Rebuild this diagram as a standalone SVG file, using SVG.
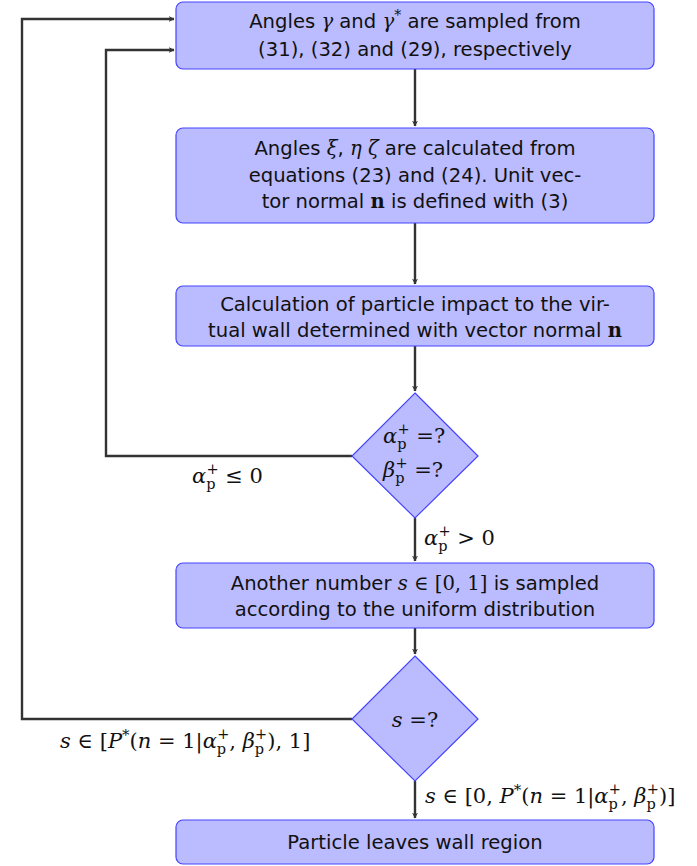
<svg xmlns="http://www.w3.org/2000/svg" width="697" height="866" viewBox="0 0 697 866">
<defs>
<marker id="arr" viewBox="0 0 10 10" refX="9" refY="5" markerWidth="6" markerHeight="6" orient="auto" markerUnits="userSpaceOnUse">
<path d="M0,0 L10,5 L0,10 L3,5 Z" fill="#333"/>
</marker>
<style>
.box{fill:#bbbbff;stroke:#4444ff;stroke-width:1.2}
.t{font-family:"DejaVu Sans","Liberation Sans",sans-serif;font-size:19.6px;fill:#111;text-anchor:middle}
.m{font-family:"DejaVu Serif","Liberation Serif",serif;font-style:italic}
.r{font-family:"DejaVu Serif","Liberation Serif",serif;font-style:normal}
.b{font-family:"DejaVu Serif","Liberation Serif",serif;font-weight:bold}
.mt{font-family:"DejaVu Serif","Liberation Serif",serif;font-size:21px;fill:#111}
.sub{font-size:14.5px;font-style:normal}
.c{fill:none;stroke:#333;stroke-width:2.4}
</style>
</defs>
<g id="connectors">
<path class="c" d="M415,69 V126" marker-end="url(#arr)"/>
<path class="c" d="M415,223 V284" marker-end="url(#arr)"/>
<path class="c" d="M415,346 V391" marker-end="url(#arr)"/>
<path class="c" d="M415,518 V561" marker-end="url(#arr)"/>
<path class="c" d="M415,628 V654" marker-end="url(#arr)"/>
<path class="c" d="M415,781 V818" marker-end="url(#arr)"/>
<path class="c" d="M352,456 H106 V50 H174" marker-end="url(#arr)"/>
<path class="c" d="M352,719 H22 V19 H174" marker-end="url(#arr)"/>
</g>
<g id="n1">
<rect class="box" x="176" y="2" width="478" height="67" rx="7"/>
<text class="t" x="415" y="28">Angles <tspan class="m">γ</tspan> and <tspan class="m">γ</tspan><tspan class="r" font-size="14" dy="-8">*</tspan><tspan dy="8"> are sampled from</tspan></text>
<text class="t" x="415" y="56">(31), (32) and (29), respectively</text>
</g>
<g id="n2">
<rect class="box" x="176" y="128" width="478" height="95" rx="7"/>
<text class="t" x="415" y="155">Angles <tspan class="m">ξ</tspan>, <tspan class="m">η</tspan>  <tspan class="m">ζ</tspan> are calculated from</text>
<text class="t" x="415" y="182">equations (23) and (24).  Unit vec-</text>
<text class="t" x="415" y="208">tor normal <tspan class="b">n</tspan> is defined with (3)</text>
</g>
<g id="n3">
<rect class="box" x="176" y="286" width="478" height="60" rx="7"/>
<text class="t" x="415" y="311">Calculation of particle impact to the vir-</text>
<text class="t" x="415" y="337">tual wall determined with vector normal <tspan class="b">n</tspan></text>
</g>
<g id="d1">
<polygon class="box" points="415,393 478,456 415,518 352,456"/>
<text class="mt" x="383" y="443"><tspan class="m">α</tspan><tspan class="sub" dy="6">p</tspan><tspan class="sub" dx="-9" dy="-15">+</tspan><tspan dy="9"> =?</tspan></text>
<text class="mt" x="383" y="477"><tspan class="m">β</tspan><tspan class="sub" dy="6">p</tspan><tspan class="sub" dx="-9" dy="-15">+</tspan><tspan dy="9"> =?</tspan></text>
</g>
<g id="n4">
<rect class="box" x="176" y="563" width="478" height="65" rx="7"/>
<text class="t" x="415" y="590">Another number <tspan class="m">s</tspan>  <tspan class="r">∈</tspan>  <tspan class="r">[0, 1]</tspan> is sampled</text>
<text class="t" x="415" y="616">according to the uniform distribution</text>
</g>
<g id="d2">
<polygon class="box" points="415,656 478,719 415,781 352,719"/>
<text class="mt" x="415" y="727" text-anchor="middle"><tspan class="m">s</tspan> =?</text>
</g>
<g id="n5">
<rect class="box" x="176" y="820" width="478" height="44" rx="7"/>
<text class="t" x="415" y="849">Particle leaves wall region</text>
</g>
<g id="labels">
<text class="mt" x="192" y="483"><tspan class="m">α</tspan><tspan class="sub" dy="6">p</tspan><tspan class="sub" dx="-9" dy="-15">+</tspan><tspan dy="9"> ≤ 0</tspan></text>
<text class="mt" x="424" y="545"><tspan class="m">α</tspan><tspan class="sub" dy="6">p</tspan><tspan class="sub" dx="-9" dy="-15">+</tspan><tspan dy="9"> &gt; 0</tspan></text>
<text class="mt" x="60" y="748"><tspan class="m">s</tspan> ∈ [<tspan class="m">P</tspan><tspan font-size="15" dy="-8">*</tspan><tspan dy="8">(</tspan><tspan class="m">n</tspan> = 1|<tspan class="m">α</tspan><tspan class="sub" dy="6">p</tspan><tspan class="sub" dx="-9" dy="-15">+</tspan><tspan dy="9">, </tspan><tspan class="m">β</tspan><tspan class="sub" dy="6">p</tspan><tspan class="sub" dx="-9" dy="-15">+</tspan><tspan dy="9">), 1]</tspan></text>
<text class="mt" x="425" y="803"><tspan class="m">s</tspan> ∈ [0, <tspan class="m">P</tspan><tspan font-size="15" dy="-8">*</tspan><tspan dy="8">(</tspan><tspan class="m">n</tspan> = 1|<tspan class="m">α</tspan><tspan class="sub" dy="6">p</tspan><tspan class="sub" dx="-9" dy="-15">+</tspan><tspan dy="9">, </tspan><tspan class="m">β</tspan><tspan class="sub" dy="6">p</tspan><tspan class="sub" dx="-9" dy="-15">+</tspan><tspan dy="9">)]</tspan></text>
</g>
</svg>
